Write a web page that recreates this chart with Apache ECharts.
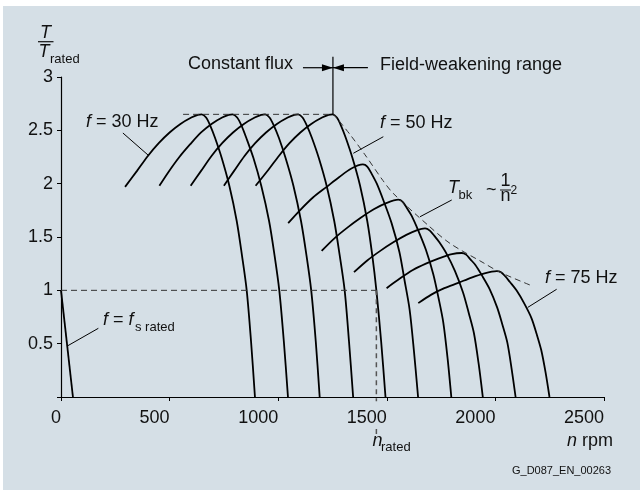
<!DOCTYPE html>
<html><head><meta charset="utf-8">
<script src="https://cdn.jsdelivr.net/npm/echarts@6/dist/echarts.min.js"></script>
<style>html,body{margin:0;padding:0;background:#fff}#c{width:640px;height:492px}</style>
</head><body><div id="c"></div>
<script>
// ---- axis ticks ----
const xTicks = [0, 500, 1000, 1500, 2000, 2500];
const yTicks = [0, 0.5, 1, 1.5, 2, 2.5, 3];

// ---- torque/speed curves (n rpm, T/Trated) ----
const curve30 = [[295,1.97],[350,2.12],[400,2.26],[450,2.38],[500,2.48],[550,2.56],[600,2.62],[630,2.645],[648,2.65],[668,2.62],[688,2.54],[709,2.43],[740,2.24],[775,1.98],[809,1.65],[833,1.33],[855,1.0],[875,0.52],[893,0]];
const curve35 = [[453,1.98],[495,2.11],[545,2.25],[595,2.37],[645,2.48],[693,2.56],[742,2.62],[772,2.645],[790,2.65],[811,2.62],[832,2.54],[853,2.43],[886,2.24],[922,1.98],[958,1.65],[983,1.33],[1005,1.0],[1026,0.52],[1045,0]];
const curve40 = [[597,1.98],[645,2.12],[693,2.26],[742,2.38],[792,2.48],[842,2.56],[892,2.62],[922,2.645],[940,2.65],[960,2.62],[981,2.54],[1003,2.43],[1034,2.24],[1070,1.98],[1105,1.65],[1130,1.33],[1152,1.0],[1173,0.52],[1191,0]];
const curve45 = [[750,1.98],[797,2.12],[845,2.26],[894,2.38],[944,2.48],[994,2.56],[1044,2.62],[1074,2.645],[1092,2.65],[1112,2.62],[1133,2.54],[1155,2.43],[1187,2.24],[1223,1.98],[1258,1.65],[1283,1.33],[1306,1.0],[1326,0.52],[1345,0]];
const curve50 = [[896,1.98],[955,2.13],[1003,2.26],[1052,2.38],[1102,2.48],[1152,2.56],[1202,2.62],[1232,2.645],[1250,2.65],[1270,2.62],[1290,2.54],[1311,2.43],[1342,2.24],[1377,1.98],[1410,1.65],[1433,1.33],[1452,1.0],[1474,0.52],[1494,0]];
const curve55 = [[1046,1.63],[1100,1.75],[1160,1.87],[1223,1.97],[1280,2.06],[1335,2.14],[1390,2.18],[1410,2.16],[1431,2.09],[1454,2.0],[1485,1.84],[1522,1.63],[1558,1.36],[1582,1.09],[1605,0.82],[1625,0.43],[1644,0]];
const curve60 = [[1200,1.37],[1260,1.49],[1320,1.59],[1380,1.68],[1440,1.76],[1500,1.82],[1553,1.85],[1573,1.83],[1593,1.77],[1614,1.70],[1645,1.56],[1680,1.38],[1714,1.15],[1738,0.93],[1760,0.70],[1780,0.36],[1797,0]];
const curve65 = [[1349,1.17],[1410,1.28],[1470,1.37],[1530,1.45],[1590,1.52],[1640,1.565],[1676,1.58],[1698,1.56],[1719,1.51],[1742,1.45],[1776,1.34],[1814,1.18],[1851,0.98],[1877,0.79],[1901,0.60],[1923,0.31],[1942,0]];
const curve70 = [[1499,1.02],[1560,1.11],[1620,1.19],[1680,1.25],[1740,1.30],[1800,1.34],[1845,1.35],[1865,1.335],[1885,1.29],[1907,1.24],[1938,1.14],[1974,1.01],[2008,0.84],[2032,0.68],[2055,0.51],[2075,0.26],[2093,0]];
const curve75 = [[1645,0.88],[1705,0.96],[1765,1.02],[1829,1.07],[1890,1.12],[1950,1.16],[2006,1.18],[2026,1.17],[2046,1.13],[2066,1.08],[2097,1.0],[2132,0.88],[2166,0.74],[2190,0.59],[2211,0.44],[2231,0.23],[2249,0]];
const curves = [curve30, curve35, curve40, curve45, curve50, curve55, curve60, curve65, curve70, curve75];

// ---- auxiliary lines ----
const fsRatedLine = [[0,1],[55,0]];
const tbkLine = [[1252,2.66],[1331,2.46],[1400,2.27],[1482,2.03],[1529,1.91],[1690,1.61],[1791,1.44],[1943,1.26],[2021,1.17],[2159,1.05]];
const fluxLevel = [[562,2.65],[1252,2.65]];
const boundaryLine = [[1252,2.65],[1252,3.19]];
const ratedTorqueLine = [[0,1],[1452,1]];
const ratedSpeedLineA = [[1452,1],[1452,-0.04]];
const ratedSpeedLineB = [[1452,-0.30],[1452,-0.36]];
const arrowY = 3.087;
const arrowLeft = [[1114,arrowY],[1252,arrowY]];
const arrowRight = [[1413,arrowY],[1252,arrowY]];

// ---- leader lines ----
const leader30 = [[285,2.475],[401,2.268]];
const leader50 = [[1484,2.44],[1346,2.285]];
const leaderTbk = [[1799,1.847],[1653,1.69]];
const leader75 = [[2282,1.01],[2149,0.84]];
const leaderFs = [[172,0.644],[29,0.478]];

const FONT = "'Liberation Sans', Arial, Helvetica, sans-serif";
const TXT = '#111';

function lineSeries(data, opts) {
  opts = opts || {};
  return {
    type: 'line', data: data, showSymbol: false, symbol: 'none',
    smooth: opts.smooth || 0, clip: false, silent: true, z: opts.z || 3,
    lineStyle: { color: opts.color || '#000', width: opts.width || 1.8, type: opts.type || 'solid' }
  };
}

function arrowSeries(pts, rotate, offset) {
  return {
    type: 'line', clip: false, silent: true, z: 5, showSymbol: true, symbol: 'none',
    lineStyle: { color: '#000', width: 1.2 },
    itemStyle: { color: '#000' },
    data: [
      { value: pts[0], symbol: 'none' },
      { value: pts[1], symbol: 'triangle', symbolSize: [7, 11], symbolRotate: rotate, symbolOffset: offset }
    ]
  };
}

const series = [];
curves.forEach(c => series.push(lineSeries(c, { smooth: 0.3 })));
series.push(lineSeries(fsRatedLine, { width: 1.8 }));
series.push(lineSeries(tbkLine, { color: '#333', width: 1, type: [6, 4], smooth: 0.3, z: 4 }));
series.push(lineSeries(fluxLevel, { color: '#333', width: 1, type: [6, 4] }));
series.push(lineSeries(boundaryLine, { width: 1.2 }));
series.push(arrowSeries(arrowLeft, -90, [-5.5, 0]));
series.push(arrowSeries(arrowRight, 90, [5.5, 0]));
series.push(lineSeries(ratedTorqueLine, { color: '#333', width: 1, type: [6, 4] }));
series.push(lineSeries(ratedSpeedLineA, { color: '#555', width: 1.5, type: [5, 4] }));
series.push(lineSeries(ratedSpeedLineB, { color: '#555', width: 1.5, type: [5, 4] }));
[leader30, leader50, leaderTbk, leader75, leaderFs].forEach(l => series.push(lineSeries(l, { width: 1 })));

function txt(text, x, y, size, extra) {
  return {
    type: 'text', x: x, y: y, silent: true, z: 100,
    style: Object.assign({
      text: text, fill: TXT, fontSize: size, fontFamily: FONT,
      align: 'left', verticalAlign: 'middle',
      rich: { i: { fontStyle: 'italic', fontSize: size, fontFamily: FONT, fill: TXT } }
    }, extra || {})
  };
}

const graphics = [
  { type: 'rect', shape: { x: 3, y: 6, width: 637, height: 484 }, style: { fill: '#d5dfe6' }, z: -100, silent: true },
  txt('Constant flux', 188, 64, 18),
  txt('Field-weakening range', 380, 65, 18),
  txt('{i|f} = 30 Hz', 86, 122, 18),
  txt('{i|f} = 50 Hz', 380, 123, 18),
  txt('{i|f} = 75 Hz', 545, 278, 18),
  txt('{i|f} = {i|f}', 103, 320, 18),
  txt('s rated', 135, 327, 13),
  txt('T', 448, 187.5, 18, { fontStyle: 'italic' }),
  txt('bk', 458.5, 195, 13),
  txt('~', 486, 190, 18),
  txt('1', 505.5, 181, 18, { align: 'center' }),
  { type: 'line', shape: { x1: 500, y1: 190, x2: 511, y2: 190 }, style: { stroke: TXT, lineWidth: 1 }, z: 100, silent: true },
  txt('n', 500.5, 196, 18),
  txt('2', 510.5, 191, 12),
  txt('T', 45.5, 32.5, 18, { fontStyle: 'italic', align: 'center' }),
  { type: 'line', shape: { x1: 38, y1: 41.7, x2: 53.5, y2: 41.7 }, style: { stroke: TXT, lineWidth: 1.2 }, z: 100, silent: true },
  txt('T', 38.5, 52, 18, { fontStyle: 'italic' }),
  txt('rated', 50, 59.5, 13),
  txt('{i|n} rpm', 567, 441, 18),
  txt('n', 372.5, 441, 18, { fontStyle: 'italic' }),
  txt('rated', 381, 447, 13),
  txt('G_D087_EN_00263', 512, 471, 11)
];

const chart = echarts.init(document.getElementById('c'), null, { renderer: 'canvas' });
chart.setOption({
  animation: false,
  backgroundColor: '#fff',
  grid: { left: 61, right: 36, top: 77, bottom: 95, containLabel: false },
  xAxis: {
    type: 'value', min: xTicks[0], max: xTicks[xTicks.length - 1], interval: 500,
    splitLine: { show: false },
    axisLine: { lineStyle: { color: '#000', width: 1.2 } },
    axisTick: { show: true, length: 4, lineStyle: { color: '#000', width: 1 } },
    axisLabel: { color: TXT, fontSize: 18, fontFamily: FONT, margin: 12, align: 'right',
      formatter: v => String(v) }
  },
  yAxis: {
    type: 'value', min: yTicks[0], max: yTicks[yTicks.length - 1], interval: 0.5,
    splitLine: { show: false },
    axisLine: { show: true, lineStyle: { color: '#000', width: 1.2 } },
    axisTick: { show: true, length: 4, lineStyle: { color: '#000', width: 1 } },
    axisLabel: { color: TXT, fontSize: 18, fontFamily: FONT, margin: 8,
      formatter: v => (v === 0 ? '' : String(v)) }
  },
  graphic: graphics,
  series: series
});
</script></body></html>
